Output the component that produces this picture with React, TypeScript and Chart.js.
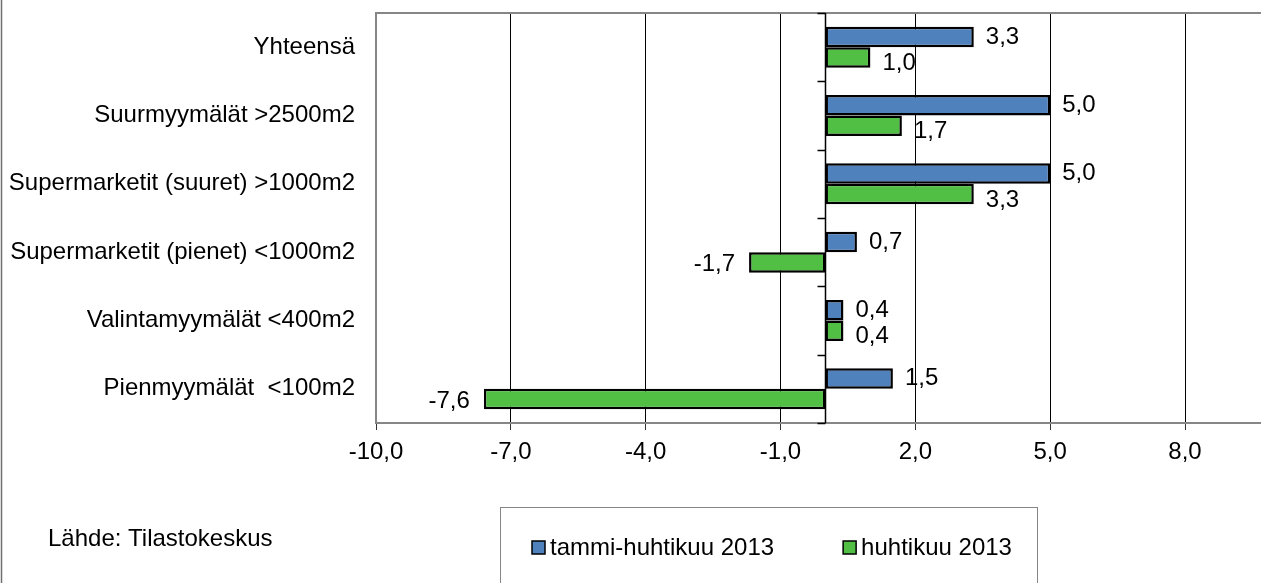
import React, { useEffect, useRef } from "react";
import { Chart, registerables } from "chart.js";

Chart.register(...registerables);

const categories = [
  "Yhteensä",
  "Suurmyymälät >2500m2",
  "Supermarketit (suuret) >1000m2",
  "Supermarketit (pienet) <1000m2",
  "Valintamyymälät <400m2",
  "Pienmyymälät  <100m2",
];
const seriesNames = ["tammi-huhtikuu 2013", "huhtikuu 2013"];
const janAprValues = [3.3, 5.0, 5.0, 0.7, 0.4, 1.5];
const aprValues = [1.0, 1.7, 3.3, -1.7, 0.4, -7.6];
const xTickValues = [-10, -7, -4, -1, 2, 5, 8];
const sourceText = "Lähde: Tilastokeskus";

const FONT_FAMILY = '"Liberation Sans", Arial, Helvetica, sans-serif';
const BLUE = "#4F81BD";
const GREEN = "#50BF44";
const BORDER_GRAY = "#868686";

const fmt = (v: number) => Number(v).toFixed(1).replace(".", ",");

const decorPlugin = {
  id: "decor",
  beforeDatasetsDraw(chart: any) {
    const { ctx, chartArea, scales } = chart;
    const { left, right, top, bottom } = chartArea;
    ctx.save();
    ctx.strokeStyle = BORDER_GRAY;
    ctx.lineWidth = 2;
    ctx.beginPath();
    ctx.moveTo(right, top);
    ctx.lineTo(left, top);
    ctx.lineTo(left, bottom);
    ctx.lineTo(right, bottom);
    ctx.stroke();
    const x0 = Math.round(scales.x.getPixelForValue(0)) + 0.5;
    ctx.strokeStyle = "#000";
    ctx.lineWidth = 1.5;
    ctx.beginPath();
    ctx.moveTo(x0, top);
    ctx.lineTo(x0, bottom);
    const n = chart.data.labels.length;
    for (let i = 0; i <= n; i++) {
      const y = Math.round(top + ((bottom - top) * i) / n) + 0.5;
      ctx.moveTo(x0 - 8, y);
      ctx.lineTo(x0, y);
    }
    ctx.stroke();
    ctx.restore();
  },
  afterDatasetsDraw(chart: any) {
    const { ctx } = chart;
    ctx.save();
    ctx.font = `24px ${FONT_FAMILY}`;
    ctx.fillStyle = "#000";
    ctx.textBaseline = "middle";
    chart.data.datasets.forEach((ds: any, di: number) => {
      const meta = chart.getDatasetMeta(di);
      meta.data.forEach((bar: any, i: number) => {
        const v = ds.data[i];
        const y = bar.y + (di === 1 ? 6 : 0);
        if (v >= 0) {
          ctx.textAlign = "left";
          ctx.fillText(fmt(v), bar.x + 12, y);
        } else {
          ctx.textAlign = "right";
          ctx.fillText(fmt(v), bar.x - 14, di === 1 ? bar.y + 2 : bar.y);
        }
      });
    });
    ctx.restore();
  },
  afterDraw(chart: any) {
    const { ctx } = chart;
    ctx.save();
    ctx.strokeStyle = "#6f6f6f";
    ctx.lineWidth = 1.5;
    ctx.beginPath();
    ctx.moveTo(1.5, 0);
    ctx.lineTo(1.5, chart.height);
    ctx.stroke();
    ctx.font = `24px ${FONT_FAMILY}`;
    ctx.fillStyle = "#000";
    ctx.textBaseline = "middle";
    ctx.textAlign = "left";
    ctx.fillText(sourceText, 48, 539);
    ctx.strokeStyle = BORDER_GRAY;
    ctx.lineWidth = 1;
    ctx.strokeRect(500.5, 507.5, 537, 120);
    let x = 532;
    const yMid = 548;
    chart.data.datasets.forEach((ds: any) => {
      ctx.fillStyle = ds.backgroundColor;
      ctx.fillRect(x, yMid - 7, 13, 13);
      ctx.strokeStyle = "#000";
      ctx.lineWidth = 1.5;
      ctx.strokeRect(x, yMid - 7, 13, 13);
      ctx.fillStyle = "#000";
      ctx.fillText(ds.label, x + 18, yMid);
      x += 18 + ctx.measureText(ds.label).width + 69;
    });
    ctx.restore();
  },
};

export default function App() {
  const canvasRef = useRef<HTMLCanvasElement | null>(null);

  useEffect(() => {
    document.body.style.margin = "0";
    const canvas = canvasRef.current;
    if (!canvas) return;
    const font = { family: FONT_FAMILY, size: 24 };
    const chart = new Chart(canvas, {
      type: "bar",
      data: {
        labels: categories,
        datasets: [
          {
            label: seriesNames[0],
            data: janAprValues,
            backgroundColor: BLUE,
            borderColor: "#000",
            borderWidth: 2.5,
            borderSkipped: false,
            categoryPercentage: 0.6,
            barPercentage: 1,
          },
          {
            label: seriesNames[1],
            data: aprValues,
            backgroundColor: GREEN,
            borderColor: "#000",
            borderWidth: 2.5,
            borderSkipped: false,
            categoryPercentage: 0.6,
            barPercentage: 1,
          },
        ],
      },
      options: {
        indexAxis: "y",
        animation: false,
        responsive: false,
        maintainAspectRatio: false,
        layout: { padding: { top: 13, left: 0, right: 0, bottom: 0 } },
        scales: {
          x: {
            type: "linear",
            min: -10,
            max: 9.69,
            afterBuildTicks: (s: any) => {
              s.ticks = xTickValues.map((v) => ({ value: v }));
            },
            afterFit: (s: any) => {
              s.height = 583 - 423;
              s.paddingLeft = 0;
              s.paddingRight = 0;
            },
            ticks: {
              callback: (v: any) => fmt(v),
              font,
              color: "#000",
              padding: 8,
              maxRotation: 0,
              autoSkip: false,
            },
            grid: {
              color: (c: any) => (c.tick && c.tick.value === -10 ? "rgba(0,0,0,0)" : "#000"),
              lineWidth: 1,
              tickLength: 7,
              tickColor: "#333",
              drawTicks: true,
            },
            border: { display: false },
          },
          y: {
            type: "category",
            afterFit: (s: any) => {
              s.width = 376;
              s.paddingTop = 0;
              s.paddingBottom = 0;
            },
            ticks: { font, color: "#000", padding: 21, autoSkip: false },
            grid: { display: false, drawTicks: false },
            border: { display: false },
          },
        },
        plugins: {
          legend: { display: false },
          tooltip: { enabled: false },
        },
      },
      plugins: [decorPlugin],
    } as any);
    return () => chart.destroy();
  }, []);

  return (
    <div style={{ width: 1261, height: 583, position: "relative" }}>
      <canvas ref={canvasRef} width={1261} height={583} style={{ display: "block" }} />
    </div>
  );
}
